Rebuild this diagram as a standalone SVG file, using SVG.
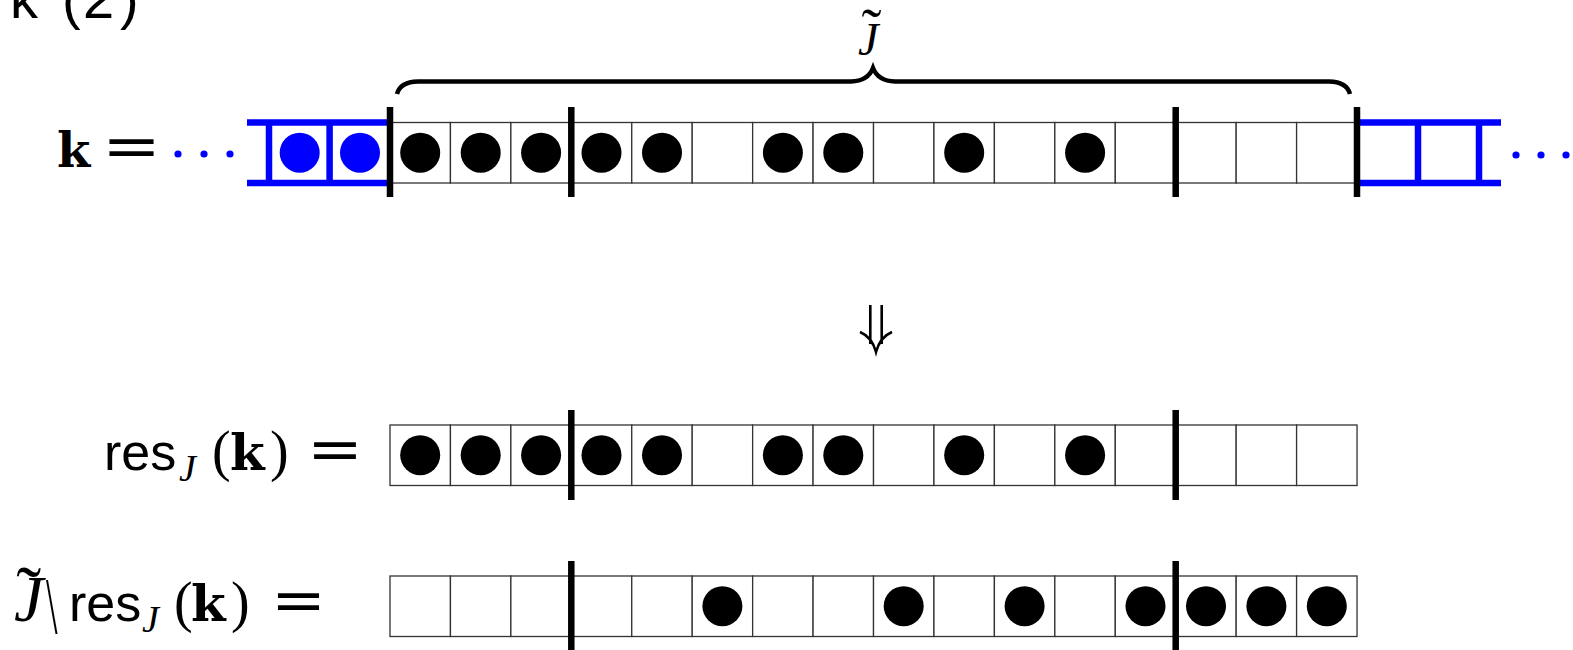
<svg xmlns="http://www.w3.org/2000/svg" width="1573" height="650" viewBox="0 0 1573 650">
<style>
.cell{fill:#fff;stroke:#333;stroke-width:1.3}
.dot{fill:#000}
.bdot{fill:#0000ff}
.bar{stroke:#000;stroke-width:6.5}
.blue{stroke:#0000ff;stroke-width:6.5;fill:none}
.sans{font-family:"Liberation Sans",Arial,sans-serif;fill:#000}
.ser{font-family:"Liberation Serif","Times New Roman",serif;font-style:normal;fill:#000}
.it{font-family:"Liberation Serif","Times New Roman",serif;font-style:italic;fill:#000}
.bk{font-family:"DejaVu Serif",serif;font-weight:bold;fill:#000}
.eq{font-family:"DejaVu Serif",serif;fill:#000}
</style>
<defs>
<rect id="c" class="cell" width="60.44" height="60.5"/>
</defs>
<rect width="1573" height="650" fill="#fff"/>

<g id="title">
<text class="sans" font-size="56" y="18"><tspan x="10">k</tspan><tspan x="62">(</tspan><tspan x="83">2</tspan><tspan x="120">)</tspan></text>
</g>

<g id="brace-label">
<path d="M397,94 Q400,82 418,81.5 L851,81.5 Q868,81 873,68 Q878,81 895,81.5 L1329,81.5 Q1347,82 1350,94" fill="none" stroke="#000" stroke-width="4.5"/>
<text class="it" font-size="46" x="858" y="55">J<tspan class="ser" font-size="60" dx="-17" dy="-6">˜</tspan></text>
</g>

<g id="row-k">
<text class="bk" font-size="48" x="57" y="167">k</text>
<text class="eq" font-size="60" x="102" y="166" textLength="59" lengthAdjust="spacingAndGlyphs">=</text>
<circle class="bdot" cx="178" cy="154" r="3.6"/>
<circle class="bdot" cx="204" cy="154" r="3.6"/>
<circle class="bdot" cx="230" cy="154" r="3.6"/>
<path class="blue" d="M247,122.5 H390 M247,183 H390 M269,122.5 V183 M329.6,122.5 V183"/>
<circle class="bdot" cx="299.7" cy="152.7" r="20"/>
<circle class="bdot" cx="360" cy="152.7" r="20"/>
<g transform="translate(0,122.5)">
<use href="#c" x="390"/><use href="#c" x="450.44"/><use href="#c" x="510.88"/><use href="#c" x="571.32"/><use href="#c" x="631.76"/><use href="#c" x="692.2"/><use href="#c" x="752.64"/><use href="#c" x="813.08"/><use href="#c" x="873.52"/><use href="#c" x="933.96"/><use href="#c" x="994.4"/><use href="#c" x="1054.84"/><use href="#c" x="1115.28"/><use href="#c" x="1175.72"/><use href="#c" x="1236.16"/><use href="#c" x="1296.6"/>
</g>
<g transform="translate(0,152.7)">
<circle class="dot" cx="420.2" r="20"/><circle class="dot" cx="480.7" r="20"/><circle class="dot" cx="541.1" r="20"/><circle class="dot" cx="601.5" r="20"/><circle class="dot" cx="662" r="20"/><circle class="dot" cx="782.9" r="20"/><circle class="dot" cx="843.3" r="20"/><circle class="dot" cx="964.2" r="20"/><circle class="dot" cx="1085.1" r="20"/>
</g>
<path class="blue" d="M1357,122.5 H1501 M1357,183 H1501 M1418,122.5 V183 M1479,122.5 V183"/>
<circle class="bdot" cx="1516" cy="155" r="3.6"/>
<circle class="bdot" cx="1541" cy="155" r="3.6"/>
<circle class="bdot" cx="1566" cy="155" r="3.6"/>
<path class="bar" d="M390,107 V197 M571.3,107 V197 M1175.7,107 V197 M1357,107 V197"/>
</g>

<g id="connectors">
<path d="M870.3,305 V344 M881.7,305 V344 M860,332 Q872,337 876,352 Q880,337 892,332" fill="none" stroke="#000" stroke-width="2.6"/>
</g>

<g id="row-res">
<text class="sans" font-size="52" x="104" y="470">res</text>
<text class="it" font-size="38" x="179" y="481">J</text>
<text class="ser" font-size="56" x="212" y="470">(</text>
<text class="bk" font-size="50" x="230" y="470">k</text>
<text class="ser" font-size="56" x="270" y="470">)</text>
<text class="eq" font-size="60" x="307" y="469" textLength="56" lengthAdjust="spacingAndGlyphs">=</text>
<g transform="translate(0,425)">
<use href="#c" x="390"/><use href="#c" x="450.44"/><use href="#c" x="510.88"/><use href="#c" x="571.32"/><use href="#c" x="631.76"/><use href="#c" x="692.2"/><use href="#c" x="752.64"/><use href="#c" x="813.08"/><use href="#c" x="873.52"/><use href="#c" x="933.96"/><use href="#c" x="994.4"/><use href="#c" x="1054.84"/><use href="#c" x="1115.28"/><use href="#c" x="1175.72"/><use href="#c" x="1236.16"/><use href="#c" x="1296.6"/>
</g>
<g transform="translate(0,455.2)">
<circle class="dot" cx="420.2" r="20"/><circle class="dot" cx="480.7" r="20"/><circle class="dot" cx="541.1" r="20"/><circle class="dot" cx="601.5" r="20"/><circle class="dot" cx="662" r="20"/><circle class="dot" cx="782.9" r="20"/><circle class="dot" cx="843.3" r="20"/><circle class="dot" cx="964.2" r="20"/><circle class="dot" cx="1085.1" r="20"/>
</g>
<path class="bar" d="M571.3,410 V500 M1175.7,410 V500"/>
</g>

<g id="row-complement">
<text class="it" font-size="66" x="14" y="621">J<tspan class="ser" font-size="75" dx="-27" dy="-3">˜</tspan></text>
<text class="ser" font-size="64" transform="translate(46,633) scale(0.65,1.25)">\</text>
<text class="sans" font-size="52" x="69" y="621">res</text>
<text class="it" font-size="38" x="142" y="632">J</text>
<text class="ser" font-size="56" x="174" y="621">(</text>
<text class="bk" font-size="50" x="191" y="621">k</text>
<text class="ser" font-size="56" x="231" y="621">)</text>
<text class="eq" font-size="60" x="271" y="620" textLength="55" lengthAdjust="spacingAndGlyphs">=</text>
<g transform="translate(0,576)">
<use href="#c" x="390"/><use href="#c" x="450.44"/><use href="#c" x="510.88"/><use href="#c" x="571.32"/><use href="#c" x="631.76"/><use href="#c" x="692.2"/><use href="#c" x="752.64"/><use href="#c" x="813.08"/><use href="#c" x="873.52"/><use href="#c" x="933.96"/><use href="#c" x="994.4"/><use href="#c" x="1054.84"/><use href="#c" x="1115.28"/><use href="#c" x="1175.72"/><use href="#c" x="1236.16"/><use href="#c" x="1296.6"/>
</g>
<g transform="translate(0,606.2)">
<circle class="dot" cx="722.4" r="20"/><circle class="dot" cx="903.7" r="20"/><circle class="dot" cx="1024.6" r="20"/><circle class="dot" cx="1145.5" r="20"/><circle class="dot" cx="1206" r="20"/><circle class="dot" cx="1266.4" r="20"/><circle class="dot" cx="1326.8" r="20"/>
</g>
<path class="bar" d="M571.3,561 V651 M1175.7,561 V651"/>
</g>
</svg>
